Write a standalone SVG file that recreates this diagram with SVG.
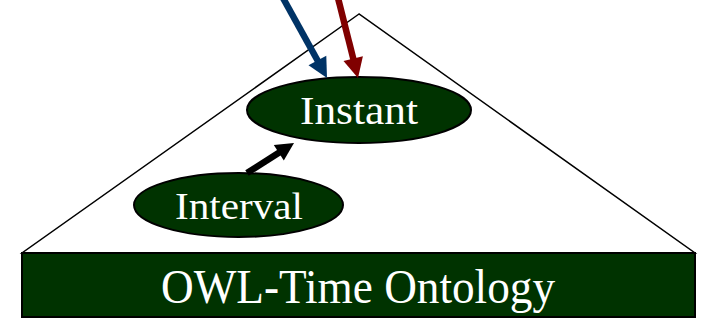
<svg xmlns="http://www.w3.org/2000/svg" width="702" height="324" viewBox="0 0 702 324">
<style>
.node{fill:#003300;stroke:#000;stroke-width:2}
.lbl{font-family:"Liberation Serif","Times New Roman",serif;fill:#fff;text-anchor:middle}
</style>
<rect width="702" height="324" fill="#fff"/>
<g id="ontology">
<polygon points="359,14 22,253 695,253" fill="#fff" stroke="#000" stroke-width="1.5"/>
<rect x="22" y="253" width="673" height="64" class="node"/>
<text x="358" y="303" class="lbl" font-size="48" textLength="394" lengthAdjust="spacingAndGlyphs">OWL-Time Ontology</text>
</g>
<g id="instant">
<ellipse cx="359" cy="110" rx="112" ry="33" class="node"/>
<text x="359" y="124" class="lbl" font-size="39" textLength="118" lengthAdjust="spacingAndGlyphs">Instant</text>
</g>
<g id="interval">
<ellipse cx="238.5" cy="205" rx="104.5" ry="32" class="node"/>
<text x="239" y="219" class="lbl" font-size="38" textLength="128" lengthAdjust="spacingAndGlyphs">Interval</text>
</g>
<g id="connectors" fill="none" stroke-width="6.5">
<line x1="283" y1="-2" x2="318.4" y2="62" stroke="#003366"/>
<polygon points="327,78 308.5,65.3 326.3,55.7" fill="#003366" stroke="none"/>
<line x1="338" y1="-2" x2="353.6" y2="60" stroke="#800000"/>
<polygon points="358,78 343.5,61 362.9,56.2" fill="#800000" stroke="none"/>
<line x1="247" y1="173" x2="280" y2="152" stroke="#000"/>
<polygon points="294,143 283.8,160.5 273.8,145" fill="#000" stroke="none"/>
</g>
</svg>
